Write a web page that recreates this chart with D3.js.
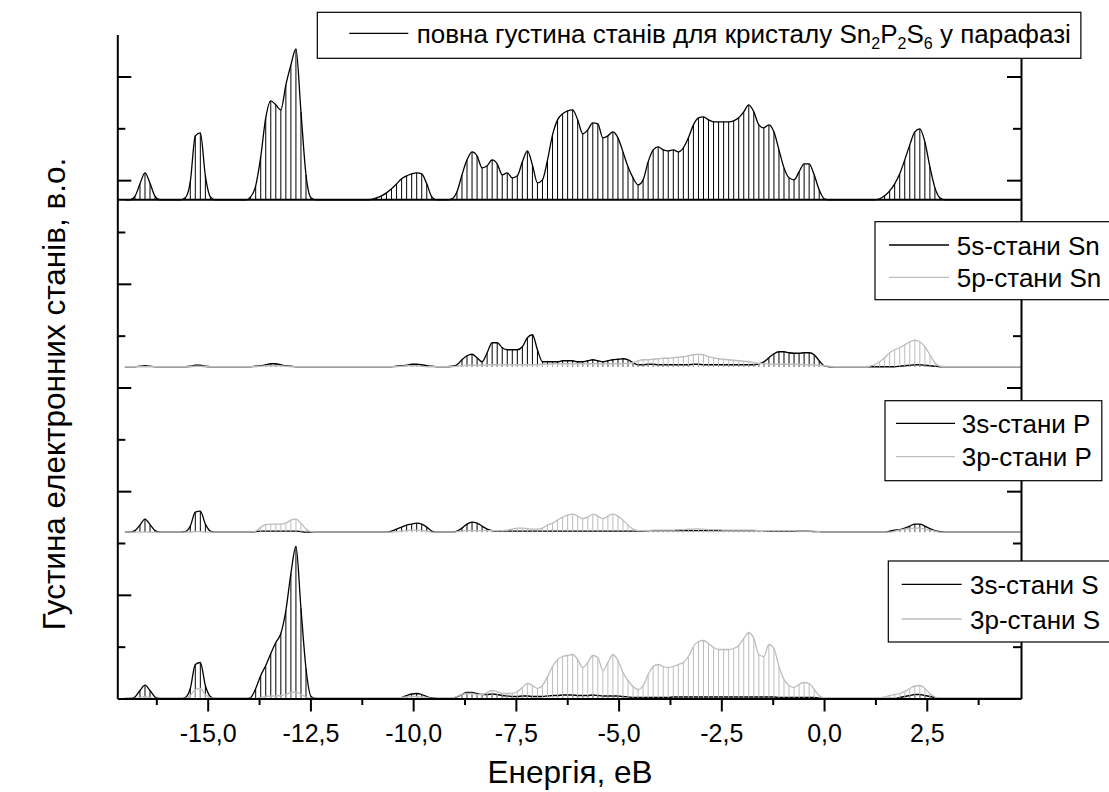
<!DOCTYPE html>
<html><head><meta charset="utf-8">
<script src="https://cdn.jsdelivr.net/npm/d3@7"></script>
<style>body{margin:0;background:#fff}svg{display:block}text{font-family:"Liberation Sans",Arial,sans-serif;fill:#000}</style>
</head><body><svg id="c" width="1109" height="792"></svg>
<script>
// Energy grid (eV): first point and step
const E0 = -17.016, dE = 0.12245;

// Densities of states (arbitrary units) on the energy grid, 179 points each
const totalDOS = [
0,0,3.5,16,27,16.5,3.5,0,0,0,
0,0,2,18,64,67,24,3,0,0,
0,0,0,0,0,3,14,43,82,99,
95,90,115,135,151,88,25,2,0,0,
0,0,0,0,0,0,0,0,0,0.5,
2,4,7,11,16,21,24,26,27,26,
16,3,0,0,0,1,8,25,40,48,
44,32,34,40,36,25,27,22,24,38,
49,35,17,20,40,65,80,86,89,90,
80,66,70,77,76,62,64,68,62,48,
33,22,15,20,38,50,53,50,49,50,
48,52,62,75,82,83,80,78,78,78,
78,79,82,88,95,88,75,72,75,68,
50,32,22,20,28,36,36,25,10,1,
0,0,0,0,0,0,0,0,0,0,
1,4,9,16,26,40,55,68,71,58,
33,12,2,0,0,0,0,0,0,0,
0,0,0,0,0,0,0,0,0];

const sn5s = [
0,0,0,0.5,1,0.5,0,0,0,0,
0,0,0,0.5,1.5,1.5,0.5,0,0,0,
0,0,0,0,0,0,0.5,1,2,3,
3,2,1,0.5,0,0,0,0,0,0,
0,0,0,0,0,0,0,0,0,0,
0,0,0,0,0.5,1,1.5,2.5,2.5,2,
1,0.5,0,0,0,0.5,2,7,11,12.5,
9,5,14,24,24,19,17,17,17,20,
29,32,17,5,5,5,5,6,6,6,
5,5,6,7,6,5,6,7,7.5,8,
7,4,2,2,2.5,2.5,2,2,2,2,
2,2,2,2.5,2.5,2,2,2,2,2,
2,2,2,2,2,2,3,5,9,13,
15,15,14,13.5,13.5,14,14,12,6,1,
0,0,0,0,0,0,0,0,0,0,
0,0,0,0,0.5,1,1.5,2,2,1.5,
1,0.5,0,0,0,0,0,0,0,0,
0,0,0,0,0,0,0,0,0];

const sn5p = [
0,0,0,0,0,0,0,0,0,0,
0,0,0,0,0.5,0.5,0,0,0,0,
0,0,0,0,0,0,0,0.5,1,1,
1,1,0.5,0,0,0,0,0,0,0,
0,0,0,0,0,0,0,0,0,0,
0,0,0,0,0,0.5,1,1,1,0.5,
0,0,0,0,0,0,0.5,1,1.5,1.5,
1.5,1.5,2,2,2,2,2,2,2,2,
2,2,2,2.5,2.5,3,3,3,3,3,
3,3,3,3,3,3,3,3,3,3,
3.5,4,6,7,7,7.5,8,8.5,8.5,9,
9.5,10,11,12,12.5,12,10,9,8,7.5,
7,6.5,6,5.5,5,4,3.5,3,2.5,2.5,
2.5,2.5,2.5,2.5,2.5,2,2,2,1.5,1,
0.5,0,0,0,0,0,0,0,0.5,2,
5,9,14,17,19,22,25,26.5,25,20,
12,4,0.5,0,0,0,0,0,0,0,
0,0,0,0,0,0,0,0,0];

const p3s = [
0,0,1.5,7,13,7.5,1.5,0,0,0,
0,0,0.5,6,20,21,8,1,0,0,
0,0,0,0,0,0,0.5,1,1,1,
1,1,1,1,1,0.5,0,0,0,0,
0,0,0,0,0,0,0,0,0,0,
0,0,0,1,3,5,7,8,9,8,
5,1,0,0,0,0,1,4,8,10,
9,6,3,1.5,1,1,1,1,1,1,
1,1,1,1,1,1,1,1,1,1,
1,1,1,1,1,1,1,1,1,1,
1,1,1,1,1.5,1.5,1.5,1.5,1.5,1.5,
1.5,1.5,1.5,1.5,1.5,1.5,1.5,1.5,1.5,1.5,
1.5,1.5,1.5,1.5,1.5,1.5,1.5,1.5,1,1,
1,1,1,1,1,1,1,0.5,0.5,0,
0,0,0,0,0,0,0,0,0,0,
0,0,1,2,2.5,4,6,8,8,6,
3.5,1.5,0.5,0,0,0,0,0,0,0,
0,0,0,0,0,0,0,0,0];

const p3p = [
0,0,0,0,0,0,0,0,0,0,
0,0,0,0,0.5,0.5,0,0,0,0,
0,0,0,0,0,0,1,5,7.5,8,
8,8,9,12,13,9,3,0.5,0,0,
0,0,0,0,0,0,0,0,0,0,
0,0,0,0,0.5,1,1.5,2,2,1.5,
1,0,0,0,0,0,0.5,1,1.5,1.5,
1.5,1.5,1.5,1.5,1.5,1.5,2,3,4,4,
3.5,3,3,4,7,9,12,15,17,18,
16,13.5,15,18,16,13.5,16,18,16,12,
7,3,1.5,1.5,1.5,2,2,2,2,2,
2.5,2.5,3,3,3.3,3,2.5,2.5,2.5,2,
2,2,2,2,2,2,1.5,1.5,1.5,1.5,
1.5,1.5,1.5,1.5,1,1,1,1,0.5,0,
0,0,0,0,0,0,0,0,0,0,
0,0,0,1,2,3,3.5,4,4,3,
2,1,0,0,0,0,0,0,0,0,
0,0,0,0,0,0,0,0,0];

const s3s = [
0,0,1.5,8,13.3,8,1.5,0,0,0,
0,0,1,10,34,36,13,2,0,0,
0,0,0,0,0,1,10,23,33,45,
56,65,88,125,152,90,30,2,0,0,
0,0,0,0,0,0,0,0,0,0,
0,0,0,0,0,1,3,4.5,5,4,
2,0.5,0,0,0,0,1.5,4,6,6,
5,4,4,4.5,4,3,2.5,2,2,2.5,
2.5,2,2,2,2.5,3,3,3.5,3.5,3.5,
3,3,3,3.5,3,2.5,2.5,2.5,2.5,2,
1.5,1,1,1,1,1,1,1,1,1.5,
1.5,1.5,1.5,1.5,1.5,1.5,1.5,1.5,1.5,1.5,
1.5,1.5,1.5,1.5,1.5,1.5,1.5,1.5,1.5,1.5,
1,1,1,1,1,1,1,1,0.5,0,
0,0,0,0,0,0,0,0,0,0,
0,0,0,0,1,2,3,4,4,3,
2,1,0,0,0,0,0,0,0,0,
0,0,0,0,0,0,0,0,0];

const s3p = [
0,0,0,1,2,1,0,0,0,0,
0,0,0,3,9,10,4,0.5,0,0,
0,0,0,0,0,0,0,1,2,2.5,
2.5,3,4,6,6.5,4,1.5,0,0,0,
0,0,0,0,0,0,0,0,0,0,
0,0,0,0,0.5,1,1.5,2,2,1.5,
1,0,0,0,0,0.5,2,4,5,5,
4,4,6,8,7,5,5,5,7,11,
15,13,10,13,22,32,39,42,43,44,
39,31,36,43,41,28,36,44,38,26,
18,12,9,13,24,32,34,32,31,32,
34,36,42,52,57,58,55,51,49,49,
49,50,53,60,66,60,44,42,54,50,
32,19,13,11,14,16,15,9,3,0.5,
0,0,0,0,0,0,0,0,0,0,
0.5,1.5,3,4,5,7,10,12.5,13,10,
5,1.5,0,0,0,0,0,0,0,0,
0,0,0,0,0,0,0,0,0];

// Axis ticks and labels
const xMajorTicks = [-15, -12.5, -10, -7.5, -5, -2.5, 0, 2.5];
const xMinorTicks = [-16.25, -13.75, -11.25, -8.75, -6.25, -3.75, -1.25, 1.25, 3.75];
const yLongTicks = [2, 4, 6, 8, 10, 12];
const yShortTicks = [1, 3, 5, 7, 9, 11];
const xTitle = "Енергія, еВ";
const yTitle = "Густина електронних станів, в.о.";
const legendTotalParts = [
  {t: "повна густина станів для кристалу Sn"}, {t: "2", sub: true},
  {t: "P"}, {t: "2", sub: true}, {t: "S"}, {t: "6", sub: true}, {t: " у парафазі"}];
const legendSn = ["5s-стани Sn", "5p-стани Sn"];
const legendP = ["3s-стани P", "3p-стани P"];
const legendS = ["3s-стани S", "3p-стани S"];

const GRAY = "#bdbdbd";
const svg = d3.select("#c");

const x = d3.scaleLinear().domain([-17.2, 4.793]).range([117.3, 1021]);
const yStack = d3.scaleLinear().domain([0, 12.81]).range([698.5, 34.5]);

const panels = [
  {base: 9.62, series: [{v: totalDOS, c: "#000"}]},
  {base: 6.40, series: [{v: sn5s, c: "#000"}, {v: sn5p, c: GRAY}]},
  {base: 3.21, series: [{v: p3s, c: "#000"}, {v: p3p, c: GRAY}]},
  {base: 0, series: [{v: s3s, c: "#000"}, {v: s3p, c: GRAY}]}
];

const plot = svg.append("g");
panels.forEach(p => {
  const y0 = yStack(p.base);
  const yv = d3.scaleLinear().domain([0, 166]).range([y0, y0 - 166]);
  p.series.forEach(s => {
    const pts = s.v.map((d, i) => ({e: E0 + i * dE, d}));
    plot.append("g").selectAll("line").data(pts.filter(q => q.d > 0.2)).join("line")
      .attr("x1", q => x(q.e)).attr("x2", q => x(q.e))
      .attr("y1", yv(0)).attr("y2", q => yv(q.d))
      .attr("stroke", s.c).attr("stroke-width", 1);
    plot.append("path").datum(pts)
      .attr("d", d3.line().x(q => x(q.e)).y(q => yv(q.d)).curve(d3.curveMonotoneX))
      .attr("fill", "none").attr("stroke", s.c).attr("stroke-width", 1.3);
  });
});

// separator (bottom axis of the upper layer)
svg.append("line").attr("x1", x.range()[0]).attr("x2", x.range()[1])
  .attr("y1", yStack(9.62)).attr("y2", yStack(9.62))
  .attr("stroke", "#000").attr("stroke-width", 2);

const loc = d3.formatLocale({decimal: ",", thousands: " ", grouping: [3], currency: ["", ""], minus: "-"});
const fmt = loc.format(".1f");

function styleAxis(g) {
  g.selectAll(".tick line").attr("stroke", "#000").attr("stroke-width", 2);
  g.selectAll(".domain").attr("stroke", "#000").attr("stroke-width", 2);
  g.selectAll("text").attr("font-size", 25).attr("font-family", "Liberation Sans, Arial, sans-serif").attr("fill", "#000");
}

const gx = svg.append("g").attr("transform", `translate(0,${yStack(0)})`)
  .call(d3.axisBottom(x).tickValues(xMajorTicks).tickSize(13).tickSizeOuter(0).tickPadding(13).tickFormat(fmt));
styleAxis(gx);
const gxm = svg.append("g").attr("transform", `translate(0,${yStack(0)})`)
  .call(d3.axisBottom(x).tickValues(xMinorTicks).tickSize(6.5).tickFormat(""));
gxm.select(".domain").remove(); styleAxis(gxm);

const gl = svg.append("g").attr("transform", `translate(${x.range()[0]},0)`)
  .call(d3.axisRight(yStack).tickValues(yLongTicks).tickSize(14).tickSizeOuter(0).tickFormat(""));
styleAxis(gl);
const gl2 = svg.append("g").attr("transform", `translate(${x.range()[0]},0)`)
  .call(d3.axisRight(yStack).tickValues(yShortTicks).tickSize(8).tickFormat(""));
gl2.select(".domain").remove(); styleAxis(gl2);

const gr = svg.append("g").attr("transform", `translate(${x.range()[1]},0)`)
  .call(d3.axisLeft(yStack).tickValues(yLongTicks).tickSize(14).tickSizeOuter(0).tickFormat(""));
styleAxis(gr);
const gr2 = svg.append("g").attr("transform", `translate(${x.range()[1]},0)`)
  .call(d3.axisLeft(yStack).tickValues(yShortTicks).tickSize(8).tickFormat(""));
gr2.select(".domain").remove(); styleAxis(gr2);

// titles
svg.append("text").attr("x", 570).attr("y", 783).attr("text-anchor", "middle")
  .attr("font-size", 31.5).text(xTitle);
svg.append("text").attr("transform", "translate(65,394) rotate(-90)").attr("text-anchor", "middle")
  .attr("font-size", 31.5).text(yTitle);

// legends
function legend(box, items) {
  const g = svg.append("g");
  const rect = g.append("rect").attr("x", box.x).attr("y", box.y).attr("height", box.h)
    .attr("fill", "#fff").attr("stroke", "#000").attr("stroke-width", 1.2);
  let maxEnd = 0;
  items.forEach(it => {
    g.append("line").attr("x1", it.x1).attr("x2", it.x2).attr("y1", it.y).attr("y2", it.y)
      .attr("stroke", it.c).attr("stroke-width", 1.3);
    const t = g.append("text").attr("x", it.tx).attr("y", it.y + 9.5).attr("font-size", 26);
    if (Array.isArray(it.label)) {
      let down = false;
      it.label.forEach(part => {
        const ts = t.append("tspan").text(part.t);
        if (part.sub) { ts.attr("font-size", 16).attr("dy", 6); down = true; }
        else if (down) { ts.attr("dy", -6); down = false; }
      });
    } else t.text(it.label);
    maxEnd = Math.max(maxEnd, it.tx + t.node().getComputedTextLength());
  });
  rect.attr("width", maxEnd + box.pad - box.x);
}

legend({x: 317.3, y: 12.3, h: 46, pad: 10},
  [{x1: 349.3, x2: 408.3, y: 33.3, tx: 416.7, c: "#000", label: legendTotalParts}]);
legend({x: 875, y: 221.7, h: 78, pad: 10},
  [{x1: 889, x2: 949, y: 245, tx: 956.7, c: "#000", label: legendSn[0]},
   {x1: 889, x2: 949, y: 277.3, tx: 956.7, c: GRAY, label: legendSn[1]}]);
legend({x: 885, y: 400.7, h: 80, pad: 10},
  [{x1: 896, x2: 955, y: 423.3, tx: 961.7, c: "#000", label: legendP[0]},
   {x1: 896, x2: 955, y: 456.7, tx: 961.7, c: GRAY, label: legendP[1]}]);
legend({x: 888.3, y: 561, h: 81, pad: 10},
  [{x1: 901.7, x2: 961.7, y: 584.3, tx: 970, c: "#000", label: legendS[0]},
   {x1: 901.7, x2: 961.7, y: 619, tx: 970, c: GRAY, label: legendS[1]}]);
</script></body></html>
